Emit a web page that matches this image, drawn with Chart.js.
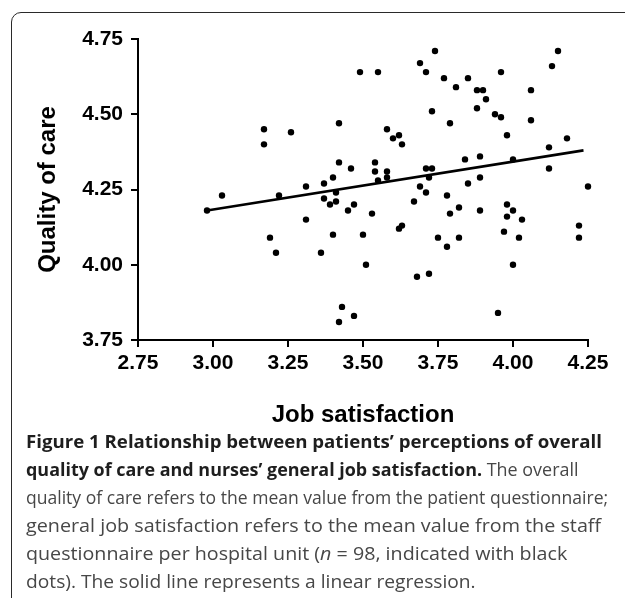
<!DOCTYPE html>
<html>
<head>
<meta charset="utf-8">
<script src="https://cdn.jsdelivr.net/npm/chart.js@4.4.0/dist/chart.umd.min.js"></script>
<style>
  html, body { margin: 0; padding: 0; background: #fff; width: 625px; height: 598px; overflow: hidden; }
  #frame { position: absolute; left: 11px; top: 12px; width: 700px; height: 700px;
           border: 1.5px solid #2a2a2a; border-top-left-radius: 10px; box-sizing: border-box; }
  #wrap { position: absolute; left: 0; top: 0; width: 625px; height: 440px; }
  #cap { position: absolute; left: 26px; top: 427px; font-family: 'Open Sans', sans-serif;
         font-size: 18px; line-height: 28px; color: #474747; white-space: nowrap; }
  #cap div { transform-origin: 0 0; width: max-content; }
  #cap b { color: #1e1e1e; font-weight: 700; }
</style>
</head>
<body>
<div id="frame"></div>
<div id="wrap"><canvas id="c" width="625" height="440"></canvas></div>
<div id="cap">
  <div data-w="576"><b>Figure 1 Relationship between patients’ perceptions of overall</b></div>
  <div data-w="553"><b>quality of care and nurses’ general job satisfaction.</b> The overall</div>
  <div data-w="582">quality of care refers to the mean value from the patient questionnaire;</div>
  <div data-w="575">general job satisfaction refers to the mean value from the staff</div>
  <div data-w="541">questionnaire per hospital unit (<i>n</i> = 98, indicated with black</div>
  <div data-w="450">dots). The solid line represents a linear regression.</div>
</div>
<script>
// Job satisfaction (x) per hospital unit
const jobSatisfaction = [
  2.98, 3.03, 3.17, 3.17, 3.26, 3.19, 3.21, 3.22, 3.31, 3.31,
  3.36, 3.37, 3.37, 3.39, 3.40, 3.41, 3.41, 3.40, 3.42, 3.42,
  3.43, 3.42, 3.47, 3.45, 3.46, 3.47, 3.49, 3.50, 3.51, 3.53,
  3.54, 3.54, 3.55, 3.55, 3.58, 3.58, 3.58, 3.60, 3.62, 3.63,
  3.62, 3.63, 3.67, 3.68, 3.69, 3.69, 3.71, 3.71, 3.71, 3.72,
  3.73, 3.72, 3.73, 3.74, 3.75, 3.77, 3.78, 3.78, 3.79, 3.79,
  3.81, 3.82, 3.82, 3.84, 3.85, 3.85, 3.88, 3.88, 3.90, 3.91,
  3.89, 3.89, 3.89, 3.94, 3.96, 3.96, 3.98, 3.98, 3.98, 3.97,
  3.95, 4.00, 4.00, 4.00, 4.02, 4.03, 4.06, 4.06, 4.12, 4.12,
  4.13, 4.15, 4.18, 4.22, 4.22, 4.25
];
// Quality of care (y) per hospital unit
const qualityOfCare = [
  4.18, 4.23, 4.45, 4.40, 4.44, 4.09, 4.04, 4.23, 4.26, 4.15,
  4.04, 4.27, 4.22, 4.20, 4.29, 4.21, 4.24, 4.10, 4.47, 4.34,
  3.86, 3.81, 3.83, 4.18, 4.32, 4.20, 4.64, 4.10, 4.00, 4.17,
  4.34, 4.31, 4.64, 4.28, 4.45, 4.31, 4.29, 4.42, 4.43, 4.40,
  4.12, 4.13, 4.21, 3.96, 4.67, 4.26, 4.64, 4.32, 4.24, 4.29,
  4.32, 3.97, 4.51, 4.71, 4.09, 4.62, 4.23, 4.06, 4.47, 4.17,
  4.59, 4.19, 4.09, 4.35, 4.62, 4.27, 4.58, 4.52, 4.58, 4.55,
  4.36, 4.29, 4.18, 4.50, 4.49, 4.64, 4.43, 4.20, 4.16, 4.11,
  3.84, 4.35, 4.18, 4.00, 4.09, 4.15, 4.58, 4.48, 4.39, 4.32,
  4.66, 4.71, 4.42, 4.13, 4.09, 4.26
];
// Linear regression line endpoints
const regressionX = [2.98, 4.235];
const regressionY = [4.18, 4.38];

const xTickValues = [2.75, 3.00, 3.25, 3.50, 3.75, 4.00, 4.25];
const yTickValues = [3.75, 4.00, 4.25, 4.50, 4.75];
const xAxisTitle = 'Job satisfaction';
const yAxisTitle = 'Quality of care';

const points = jobSatisfaction.map((x, i) => ({ x: x, y: qualityOfCare[i] }));
const regLine = regressionX.map((x, i) => ({ x: x, y: regressionY[i] }));

const tickFont = { family: "'Liberation Sans', Arial, sans-serif", size: 21, weight: 'bold' };
const titleFont = { family: "'Liberation Sans', Arial, sans-serif", size: 24, weight: 'bold' };

new Chart(document.getElementById('c'), {
  type: 'scatter',
  data: {
    datasets: [
      {
        type: 'line', data: regLine, borderColor: '#000', borderWidth: 2.6,
        pointRadius: 0, fill: false, clip: false, order: 1
      },
      {
        data: points, backgroundColor: '#000', borderWidth: 0,
        pointRadius: 3.2, pointHoverRadius: 3.2, clip: false, order: 2
      }
    ]
  },
  options: {
    responsive: false,
    animation: false,
    devicePixelRatio: 1,
    events: [],
    layout: { padding: { left: 0, top: 39, right: 37, bottom: 0 } },
    plugins: { legend: { display: false }, tooltip: { enabled: false } },
    scales: {
      x: {
        type: 'linear', min: 2.75, max: 4.25,
        afterBuildTicks: s => { s.ticks = xTickValues.map(v => ({ value: v })); },
        afterFit: s => { s.height = 100; },
        ticks: { callback: v => Number(v).toFixed(2), font: tickFont, color: '#000',
                 padding: 4, maxRotation: 0, autoSkip: false },
        grid: { drawOnChartArea: false, drawTicks: true, tickLength: 7, color: '#000', lineWidth: 2 },
        border: { display: true, color: '#000', width: 2 },
        title: { display: true, text: xAxisTitle, font: titleFont, color: '#000',
                 padding: { top: 0, bottom: 10 } }
      },
      y: {
        type: 'linear', min: 3.75, max: 4.75,
        afterBuildTicks: s => { s.ticks = yTickValues.map(v => ({ value: v })); },
        afterFit: s => { s.width = 138; },
        ticks: { callback: v => Number(v).toFixed(2), font: tickFont, color: '#000',
                 padding: 8, autoSkip: false },
        grid: { drawOnChartArea: false, drawTicks: true, tickLength: 7, color: '#000', lineWidth: 2 },
        border: { display: true, color: '#000', width: 2 },
        title: { display: true, text: yAxisTitle, font: titleFont, color: '#000',
                 padding: { top: 34, bottom: 0 } }
      }
    }
  }
});

// fit each caption line to the width it has in the reference
function fitCaption() {
  document.querySelectorAll('#cap div').forEach(d => {
    d.style.transform = '';
    const w = d.scrollWidth;
    if (w > 0) d.style.transform = 'scaleX(' + (parseFloat(d.dataset.w) / w) + ')';
  });
}
if (document.fonts && document.fonts.ready) { document.fonts.ready.then(fitCaption); }
fitCaption();
</script>
</body>
</html>
